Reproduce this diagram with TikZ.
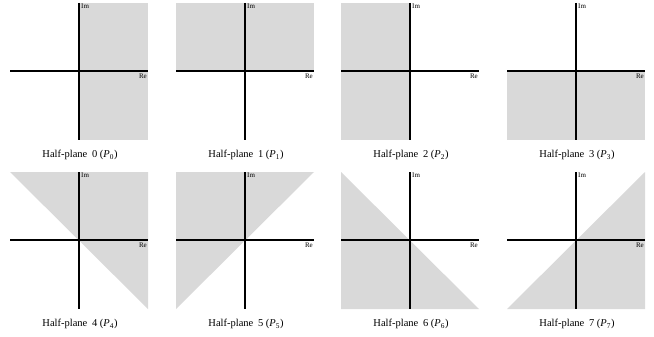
\documentclass[tikz,border=0pt]{standalone}
\usepackage{fontspec}
\setmainfont{Liberation Serif}
\usepackage{tikz}
\usetikzlibrary{positioning}
\definecolor{planegray}{HTML}{D9D9D9}

\begin{document}
\begin{tikzpicture}[x=1pt,y=-1pt,
    axis/.style={line width=1.3pt,black},
    planefill/.style={fill=planegray},
    axlabel/.style={font=\fontsize{7}{8}\selectfont,inner sep=0pt},
    caption/.style={font=\fontsize{10.5}{12}\selectfont,inner sep=0pt}]
  \useasboundingbox (0,0) rectangle (654,337);
  % corners and axis ends of each plane
  \foreach \k/\cx/\cy in {0/79/71,1/245/71,2/410/71,3/576/71,
                          4/79/240,5/245/240,6/410/240,7/576/240} {
    \coordinate (o\k)  at (\cx,\cy);
    \coordinate (w\k)  at (\cx-69,\cy);
    \coordinate (e\k)  at (\cx+69,\cy);
    \coordinate (n\k)  at (\cx,\cy-68);
    \coordinate (s\k)  at (\cx,\cy+69);
    \coordinate (nw\k) at (\cx-69,\cy-68);
    \coordinate (ne\k) at (\cx+69,\cy-68);
    \coordinate (sw\k) at (\cx-69,\cy+69);
    \coordinate (se\k) at (\cx+69,\cy+69);
  }
  % shaded half-planes
  \fill[planefill] (n0) rectangle (se0);
  \fill[planefill] (nw1) rectangle (e1);
  \fill[planefill] (nw2) rectangle (s2);
  \fill[planefill] (w3) rectangle (se3);
  \fill[planefill] (nw4) -- (ne4) -- (se4) -- cycle;
  \fill[planefill] (nw5) -- (ne5) -- (sw5) -- cycle;
  \fill[planefill] (nw6) -- (sw6) -- (se6) -- cycle;
  \fill[planefill] (sw7) -- (ne7) -- (se7) -- cycle;
  % axes, labels, captions
  \foreach \k in {0,...,7} {
    \draw[axis] (w\k) -- (e\k);
    \draw[axis] (n\k) -- (s\k);
    \node[axlabel,anchor=west] (im\k) at ([xshift=2pt,yshift=-3pt]n\k) {Im};
    \node[axlabel,anchor=east] (re\k) at ([xshift=-1pt,yshift=-5.5pt]e\k) {Re};
    \node[caption] (cap\k) at ([xshift=1pt,yshift=-84pt]o\k)
      {Half-plane\hspace{0.45em}\k\ (\textit{P}\textsubscript{\k})};
  }
\end{tikzpicture}
\end{document}
